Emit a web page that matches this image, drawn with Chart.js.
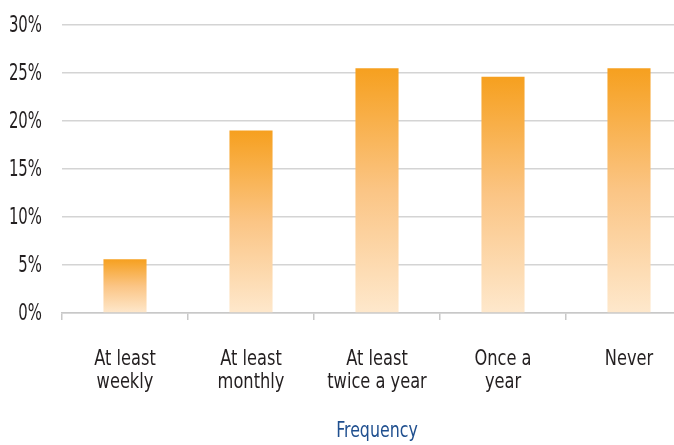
<!DOCTYPE html>
<html>
<head>
<meta charset="utf-8">
<script src="https://cdn.jsdelivr.net/npm/chart.js@4/dist/chart.umd.min.js"></script>
<style>
  html, body { margin: 0; padding: 0; background: #fff; overflow: hidden; }
  #wrap { width: 674px; height: 445px; overflow: hidden; position: relative; }
  #wrap canvas { position: absolute; left: 0; top: 0; }
</style>
</head>
<body>
<div id="wrap"><canvas id="c" width="700" height="445" style="width:700px;height:445px"></canvas></div>
<script>
const categories = [["At least", "weekly"], ["At least", "monthly"], ["At least", "twice a year"], ["Once a", "year"], ["Never"]];
const values = [5.6, 19.0, 25.5, 24.6, 25.5];
const yTicks = [0, 5, 10, 15, 20, 25, 30];
const axisTitle = "Frequency";

const FONT = "'DejaVu Sans Condensed', 'Liberation Sans Narrow', sans-serif";
const TEXT_COLOR = '#231f20';
const TITLE_COLOR = '#1f4f8f';

function barGradient(ctx) {
  const chart = ctx.chart;
  const y = chart.scales && chart.scales.y;
  if (!y || ctx.raw === undefined || !chart.chartArea) return '#f6a01f';
  const top = y.getPixelForValue(ctx.raw);
  const base = y.getPixelForValue(0);
  if (!isFinite(top) || !isFinite(base) || top === base) return '#f6a01f';
  const g = chart.ctx.createLinearGradient(0, top, 0, base);
  g.addColorStop(0, '#f6a01f');
  g.addColorStop(0.5, '#fbc585');
  g.addColorStop(1, '#fee8cc');
  return g;
}

function narrowText(c, text, x, y, align, color, size, squeeze) {
  c.save();
  c.translate(x, y);
  c.scale(squeeze, 1);
  c.font = size + "px " + FONT;
  c.fillStyle = color;
  c.textAlign = align;
  c.textBaseline = 'middle';
  c.fillText(text, 0, 0);
  c.restore();
}

const labelPlugin = {
  id: 'narrowLabels',
  afterDraw(chart) {
    const c = chart.ctx;
    const xs = chart.scales.x, ys = chart.scales.y;
    ys.ticks.forEach((t) => {
      const py = ys.getPixelForValue(t.value);
      narrowText(c, t.value + '%', ys.right - 20, py + 1.5, 'right', TEXT_COLOR, 23, 0.72);
    });
    categories.forEach((lab, i) => {
      const px = xs.getPixelForTick(i);
      const lines = Array.isArray(lab) ? lab : [lab];
      lines.forEach((ln, j) => {
        narrowText(c, ln, px, xs.top + 46 + j * 23.5, 'center', TEXT_COLOR, 22, 0.82);
      });
    });
    narrowText(c, axisTitle, (xs.left + xs.right) / 2, 431, 'center', TITLE_COLOR, 22, 0.8);
  }
};

new Chart(document.getElementById('c'), {
  type: 'bar',
  data: {
    labels: categories,
    datasets: [{
      data: values,
      backgroundColor: barGradient,
      borderWidth: 0,
      barPercentage: 0.342,
      categoryPercentage: 1.0
    }]
  },
  options: {
    responsive: false,
    animation: false,
    devicePixelRatio: 1,
    layout: { padding: { top: 25, right: 8, left: 0, bottom: 0 } },
    plugins: { legend: { display: false }, tooltip: { enabled: false } },
    scales: {
      x: {
        offset: true,
        grid: { display: true, drawOnChartArea: false, drawTicks: true, tickLength: 7, color: '#c8c8c8', lineWidth: 1.5 },
        border: { display: true, color: '#c8c8c8', width: 1.5 },
        ticks: { display: false },
        afterFit(scale) { scale.height = 132; }
      },
      y: {
        min: 0, max: 30,
        afterBuildTicks(scale) { scale.ticks = yTicks.map(v => ({ value: v })); },
        grid: { color: '#d4d4d4', lineWidth: 1.5, drawTicks: false },
        border: { display: false },
        ticks: { display: false },
        afterFit(scale) { scale.width = 62; }
      }
    }
  },
  plugins: [labelPlugin]
});
</script>
</body>
</html>
